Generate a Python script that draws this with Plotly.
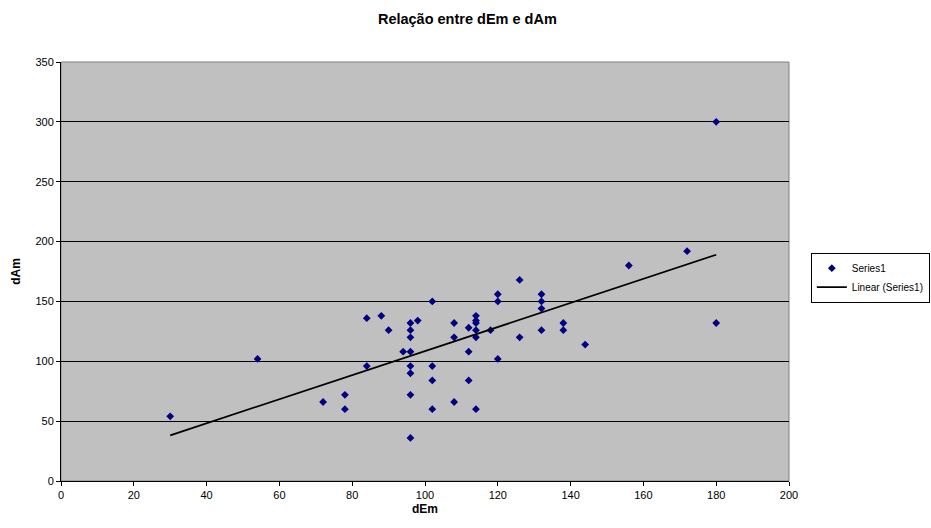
import numpy as np
import plotly.graph_objects as go

# dEm / dAm observations
dEm = [30, 54, 72, 78, 78, 84, 84, 88, 90, 94,
       96, 96, 96, 96, 96, 96, 96, 96, 98,
       102, 102, 102, 102, 108, 108, 108,
       112, 112, 112, 114, 114, 114, 114, 114, 114,
       118, 120, 120, 120, 126, 126,
       132, 132, 132, 132, 138, 138, 144, 156, 172, 180, 180]
dAm = [54, 102, 66, 72, 60, 96, 136, 138, 126, 108,
       132, 126, 120, 108, 96, 90, 72, 36, 134,
       150, 96, 84, 60, 132, 120, 66,
       128, 108, 84, 138, 134, 132, 126, 120, 60,
       126, 156, 150, 102, 168, 120,
       156, 150, 144, 126, 132, 126, 114, 180, 192, 300, 132]

x_ticks = [0, 20, 40, 60, 80, 100, 120, 140, 160, 180, 200]
y_ticks = [0, 50, 100, 150, 200, 250, 300, 350]

# least-squares trend line across the data range
slope, intercept = np.polyfit(dEm, dAm, 1)
trend_x = [min(dEm), max(dEm)]
trend_y = [slope * v + intercept for v in trend_x]

FONT = "Liberation Sans, Arial, sans-serif"

fig = go.Figure()
fig.add_trace(go.Scatter(
    x=dEm, y=dAm, mode="markers", name="Series1",
    marker=dict(symbol="diamond", size=6, color="#000080"),
))
fig.add_trace(go.Scatter(
    x=trend_x, y=trend_y, mode="lines", name="Linear (Series1)",
    line=dict(color="black", width=1.8),
))

# gray frame around the plotting area
fig.add_shape(type="rect", xref="paper", yref="paper", x0=0, y0=0, x1=1, y1=1,
              line=dict(color="#808080", width=1), layer="below")

fig.update_layout(
    width=931, height=528,
    margin=dict(l=61, r=142, t=62, b=47, autoexpand=False),
    paper_bgcolor="white",
    plot_bgcolor="#C0C0C0",
    font=dict(family=FONT, size=11, color="black"),
    title=dict(text="<b>Relação entre dEm e dAm</b>", x=0.502, xref="container",
               xanchor="center", y=1 - 19 / 528, yanchor="middle",
               font=dict(size=14.5, family=FONT, color="black")),
    showlegend=True,
    legend=dict(x=1.03, xanchor="left", y=0.545, yanchor="top",
                bordercolor="black", borderwidth=1, bgcolor="white",
                font=dict(size=10, family=FONT), tracegroupgap=0,
                itemwidth=30),
    xaxis=dict(range=[0, 200], tickvals=x_ticks, showgrid=False, zeroline=False,
               showline=True, linecolor="black", linewidth=1,
               ticks="outside", ticklen=4, tickcolor="black",
               tickfont=dict(size=11, family=FONT),
               title=dict(text="<b>dEm</b>", font=dict(size=12, family=FONT), standoff=4)),
    yaxis=dict(range=[0, 350], tickvals=y_ticks, showgrid=True, gridcolor="black",
               gridwidth=1, zeroline=False,
               showline=True, linecolor="black", linewidth=1,
               ticks="outside", ticklen=4, tickcolor="black",
               tickfont=dict(size=11, family=FONT),
               title=dict(text="<b>dAm</b>", font=dict(size=12, family=FONT), standoff=12)),
)

fig.write_html("out.html")
